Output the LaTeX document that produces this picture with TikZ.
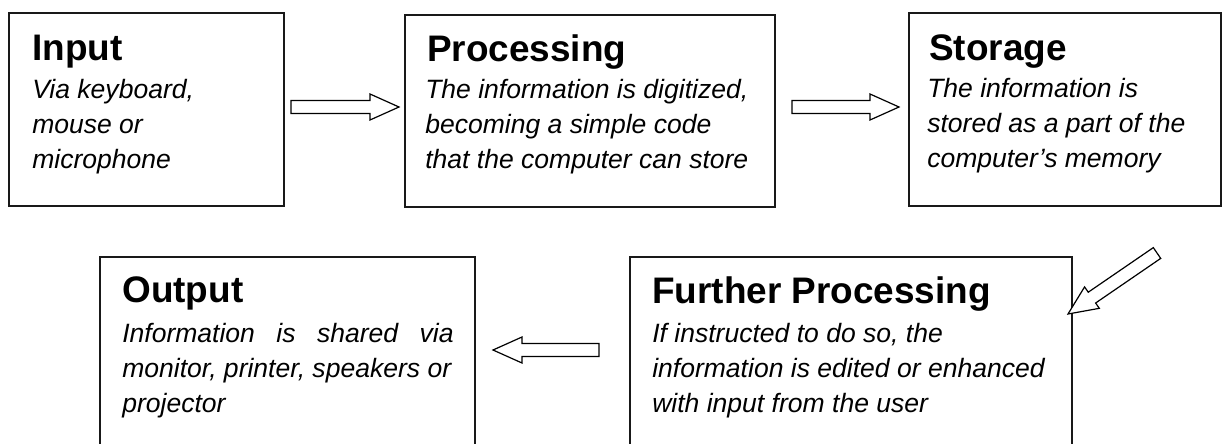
\documentclass[tikz,border=0pt]{standalone}
\usepackage{fontspec}
\setmainfont{Liberation Sans}
\usetikzlibrary{calc,fit}

% block arrow from tail coordinate #1 to tip coordinate #2
\newcommand\blockarrow[2]{%
  \coordinate (hb) at ($(#2)!21.75pt!(#1)$);
  \draw[arrowline]
    ($(#1)!4.9pt!90:(#2)$) -- ($(hb)!4.9pt!-90:(#1)$) --
    ($(hb)!9.75pt!-90:(#1)$) -- (#2) -- ($(hb)!9.75pt!90:(#1)$) --
    ($(hb)!4.9pt!90:(#1)$) -- ($(#1)!4.9pt!-90:(#2)$) -- cycle;}

\newcommand\textlines[2]{\parbox[t]{#1}{\raggedright #2}}

\begin{document}
\begin{tikzpicture}[x=0.75pt, y=-0.75pt,
  stagebox/.style={draw=black!90, line width=1.4pt, inner sep=0pt},
  title/.style={anchor=base west, inner sep=0pt,
    font=\fontsize{27.7}{30}\selectfont\bfseries},
  body/.style={anchor=base west, inner sep=0pt,
    font=\fontsize{19.9}{26.6}\selectfont\itshape},
  arrowline/.style={draw=black, line width=0.9pt, fill=white, line join=miter}]

\useasboundingbox (0,0) rectangle (1223,443);
\clip (0,0) rectangle (1223,443);

% stage boxes
\node[stagebox, fit={(9,13) (284,206)}] (input) {};
\node[stagebox, fit={(405,15) (775,207)}] (proc) {};
\node[stagebox, fit={(909,13) (1221,206)}] (store) {};
\node[stagebox, fit={(100,257) (475,470)}] (output) {};
\node[stagebox, fit={(630,257) (1072,470)}] (further) {};

% titles
\node[title] (inputT) at (32,60) {Input};
\node[title] (procT) at (427,61) {Processing};
\node[title] (storeT) at (929,60) {Storage};
\node[title] (outputT) at (122,302) {Output};
\node[title] (furtherT) at (652,303) {Further Processing};

% descriptions
\node[body] (inputB) at (32,98)
  {\textlines{240pt}{Via keyboard,\\ mouse or\\ microphone}};
\node[body] (procB) at (425,98)
  {\textlines{270pt}{The information is digitized,\\ becoming a simple code\\ that the computer can store}};
\node[body] (storeB) at (927,97)
  {\textlines{230pt}{The information is\\ stored as a part of the\\ computer’s memory}};
\node[body] (outputB) at (122,342)
  {\textlines{248.5pt}{\makebox[248.5pt][s]{Information is shared via}\\ monitor, printer, speakers or\\ projector}};
\node[body] (furtherB) at (652,342)
  {\textlines{310pt}{If instructed to do so, the\\ information is edited or enhanced\\ with input from the user}};

% flow arrows
\coordinate (a1s) at (291,107);  \coordinate (a1e) at (399,107);
\coordinate (a2s) at (792,107);  \coordinate (a2e) at (899,107);
\coordinate (a3s) at (1157,253); \coordinate (a3e) at (1068,314);
\coordinate (a4s) at (599,350);  \coordinate (a4e) at (493,350);
\blockarrow{a1s}{a1e}
\blockarrow{a2s}{a2e}
\blockarrow{a3s}{a3e}
\blockarrow{a4s}{a4e}
\end{tikzpicture}
\end{document}
